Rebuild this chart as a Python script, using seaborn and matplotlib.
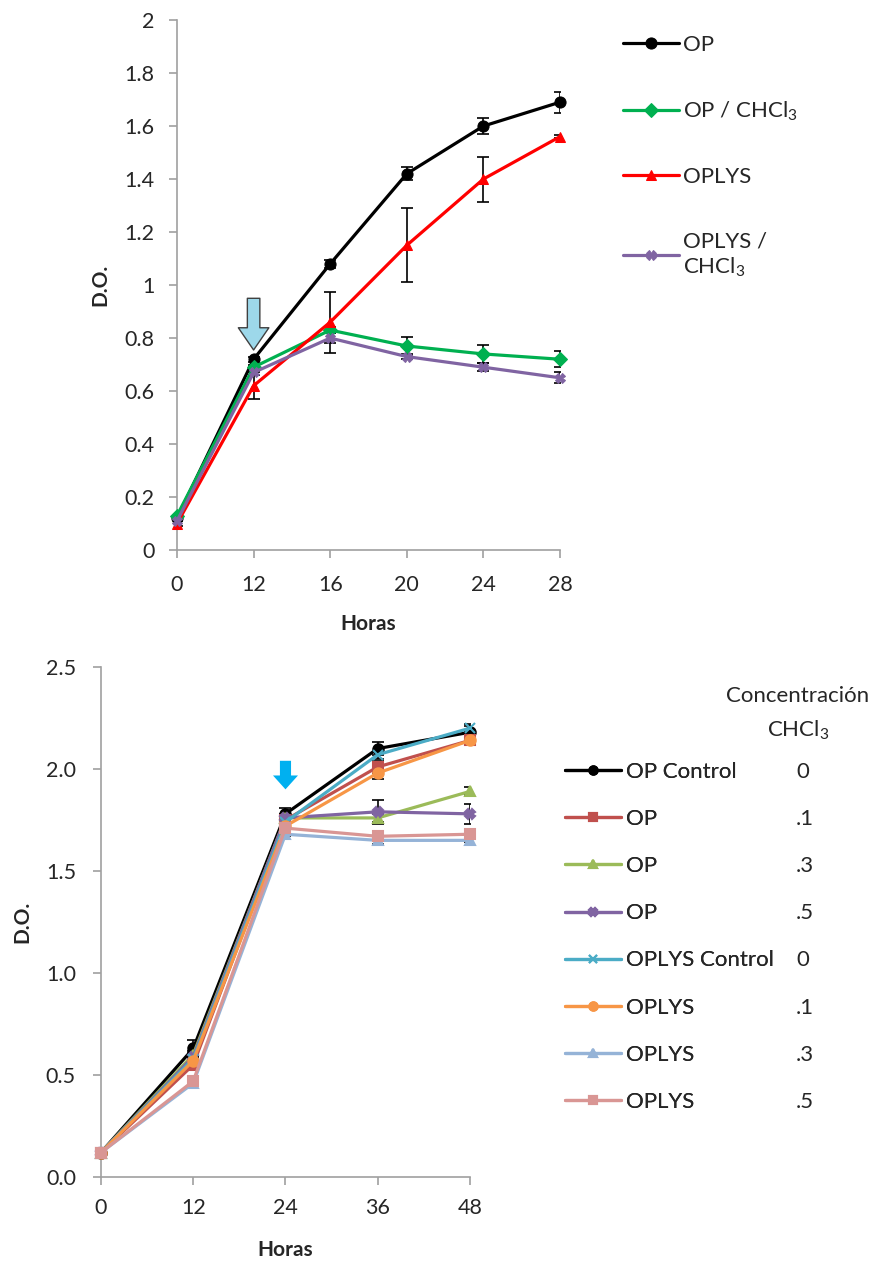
import numpy as np
import pandas as pd
import seaborn as sns
import matplotlib.pyplot as plt

# * data, top panel
top_hours = ['0', '12', '16', '20', '24', '28']
op = [0.12, 0.72, 1.08, 1.42, 1.60, 1.69]
op_err = [0.01, 0.01, 0.015, 0.025, 0.03, 0.04]
op_chcl3 = [0.13, 0.69, 0.83, 0.77, 0.74, 0.72]
op_chcl3_err = [0.0, 0.01, 0.01, 0.035, 0.035, 0.03]
oplys = [0.10, 0.62, 0.86, 1.15, 1.40, 1.56]
oplys_err = [0.01, 0.05, 0.115, 0.14, 0.085, 0.005]
oplys_chcl3 = [0.11, 0.67, 0.80, 0.73, 0.69, 0.65]
oplys_chcl3_err = [0.0, 0.01, 0.02, 0.01, 0.015, 0.02]

# * data, bottom panel
bottom_hours = ['0', '12', '24', '36', '48']
op_control = [0.12, 0.63, 1.78, 2.10, 2.18]
op_control_err = [0.0, 0.04, 0.03, 0.03, 0.03]
op_01 = [0.12, 0.55, 1.75, 2.01, 2.14]
op_01_err = [0.0, 0.02, 0.02, 0.03, 0.02]
op_03 = [0.12, 0.60, 1.76, 1.76, 1.89]
op_03_err = [0.0, 0.02, 0.02, 0.02, 0.02]
op_05 = [0.12, 0.59, 1.76, 1.79, 1.78]
op_05_err = [0.0, 0.02, 0.02, 0.06, 0.05]
oplys_control = [0.12, 0.58, 1.74, 2.07, 2.20]
oplys_control_err = [0.0, 0.01, 0.02, 0.02, 0.02]
oplys_01 = [0.12, 0.57, 1.72, 1.98, 2.14]
oplys_01_err = [0.0, 0.01, 0.02, 0.03, 0.02]
oplys_03 = [0.12, 0.46, 1.68, 1.65, 1.65]
oplys_03_err = [0.0, 0.01, 0.01, 0.02, 0.01]
oplys_05 = [0.12, 0.47, 1.71, 1.67, 1.68]
oplys_05_err = [0.0, 0.02, 0.01, 0.01, 0.01]
bottom_names = ['OP Control', 'OP', 'OP', 'OP', 'OPLYS Control', 'OPLYS', 'OPLYS', 'OPLYS']
concentrations = ['0', '.1', '.3', '.5', '0', '.1', '.3', '.5']

sns.set_style('white')
plt.rcParams['font.family'] = ['Lato', 'DejaVu Sans']
plt.rcParams['mathtext.fontset'] = 'custom'
plt.rcParams['mathtext.rm'] = 'Lato'
plt.rcParams['mathtext.it'] = 'Lato:italic'
plt.rcParams['mathtext.bf'] = 'Lato:bold'

axis_gray = '#A0A0A0'
sub3 = r'CHCl$_\mathregular{3}$'

fig = plt.figure(figsize=(8.78, 12.61), dpi=100)
ax1 = fig.add_axes([0.2016, 0.5638, 0.4362, 0.4203])
ax2 = fig.add_axes([0.115, 0.0666, 0.4203, 0.4045])


def style_axis(ax, n, ylim, yticks, ylabels, xlabels, xpad, ypad):
    ax.set_xlim(0, n - 1)
    ax.set_ylim(*ylim)
    ax.set_xticks(np.arange(n))
    ax.set_xticklabels(xlabels)
    ax.set_yticks(yticks)
    ax.set_yticklabels(ylabels)
    for side in ['top', 'right']:
        ax.spines[side].set_visible(False)
    for side in ['left', 'bottom']:
        ax.spines[side].set_color(axis_gray)
        ax.spines[side].set_linewidth(1.2)
    ax.tick_params(axis='x', length=6, width=1.2, color=axis_gray, pad=xpad,
                   labelsize=15.5, direction='out', bottom=True)
    ax.tick_params(axis='y', length=6, width=1.2, color=axis_gray, pad=ypad,
                   labelsize=15.5, direction='out', left=True)
    ax.grid(False)


# * top panel
top_series = [
    ('OP', op, op_err, 'black', 'o', 8),
    ('OP / ' + sub3, op_chcl3, op_chcl3_err, '#00B050', 'D', 7.5),
    ('OPLYS', oplys, oplys_err, '#FF0000', '^', 7.5),
    ('OPLYS /\n' + sub3, oplys_chcl3, oplys_chcl3_err, '#8064A2', 'X', 7),
]
x_top = np.arange(len(top_hours))
for name, vals, err, col, mk, ms in top_series:
    ax1.errorbar(x_top, vals, yerr=err, fmt='none', ecolor='black',
                 elinewidth=1.2, capsize=4, capthick=1.2, zorder=2)
    sns.lineplot(x=x_top, y=vals, color=col, marker=mk, markersize=ms,
                 markeredgecolor=col, linewidth=2.3, label=name, ax=ax1,
                 zorder=3, clip_on=False)

style_axis(ax1, len(top_hours), (0, 2), np.arange(0, 2.01, 0.2),
           ['0', '0.2', '0.4', '0.6', '0.8', '1', '1.2', '1.4', '1.6', '1.8', '2'],
           top_hours, 12, 10)
ax1.set_xlabel('Horas', fontsize=15, fontweight='bold', labelpad=14)
ax1.set_ylabel('D.O.', fontsize=15, fontweight='bold', labelpad=10)

ax1.annotate('', xy=(1, 0.755), xytext=(1, 0.95),
             arrowprops=dict(arrowstyle='simple,head_width=22,head_length=16,tail_width=9',
                             mutation_scale=1, fc='#9DD8EA', ec='#404040', lw=1,
                             shrinkA=0, shrinkB=0), zorder=5)

h1, l1 = ax1.get_legend_handles_labels()
ax1.get_legend().remove()
fig.legend(h1, l1, loc='upper left', bbox_to_anchor=(623 / 878, 1 - 35 / 1261),
           frameon=False, fontsize=16, handlelength=2.5, handletextpad=0.2,
           labelspacing=2.0, borderpad=0, borderaxespad=0)

# * bottom panel
bottom_series = [
    (op_control, op_control_err, 'black', 'o', 7.5),
    (op_01, op_01_err, '#C0504D', 's', 7.5),
    (op_03, op_03_err, '#9BBB59', '^', 7.5),
    (op_05, op_05_err, '#8064A2', 'X', 7),
    (oplys_control, oplys_control_err, '#4BACC6', 'x', 6.5),
    (oplys_01, oplys_01_err, '#F79646', 'o', 7.5),
    (oplys_03, oplys_03_err, '#95B3D7', '^', 7.5),
    (oplys_05, oplys_05_err, '#D99694', 's', 7.5),
]
x_bot = np.arange(len(bottom_hours))
for name, (vals, err, col, mk, ms) in zip(bottom_names, bottom_series):
    ax2.errorbar(x_bot, vals, yerr=err, fmt='none', ecolor='black',
                 elinewidth=1.2, capsize=4, capthick=1.2, zorder=2)
    sns.lineplot(x=x_bot, y=vals, color=col, marker=mk, markersize=ms,
                 markeredgecolor=col, markeredgewidth=1.5, linewidth=2.3,
                 label=name, ax=ax2, zorder=3, clip_on=False)

style_axis(ax2, len(bottom_hours), (0, 2.5), np.arange(0, 2.51, 0.5),
           ['0.0', '0.5', '1.0', '1.5', '2.0', '2.5'], bottom_hours, 9, 12)
ax2.set_xlabel('Horas', fontsize=15, fontweight='bold', labelpad=16)
ax2.set_ylabel('D.O.', fontsize=15, fontweight='bold', labelpad=10)

ax2.annotate('', xy=(2, 1.90), xytext=(2, 2.04),
             arrowprops=dict(arrowstyle='simple,head_width=18,head_length=10,tail_width=8',
                             mutation_scale=1, fc='#00B0F0', ec='#00B0F0', lw=0,
                             shrinkA=0, shrinkB=0), zorder=5)

h2, l2 = ax2.get_legend_handles_labels()
ax2.get_legend().remove()
leg_kw = dict(loc='upper left', frameon=False, fontsize=16, labelspacing=1.22,
              borderpad=0, borderaxespad=0, markerscale=0.8)
leg_a = fig.legend(h2, l2, bbox_to_anchor=(565 / 878, 1 - 762 / 1261),
                   handlelength=2.5, handletextpad=0.25, **leg_kw)
blank = [plt.Line2D([], [], alpha=0) for _ in concentrations]
fig.legend(blank, concentrations, bbox_to_anchor=(796 / 878, 1 - 762 / 1261),
           handlelength=0, handletextpad=0, **leg_kw)
fig.add_artist(leg_a)

fig.text(798 / 878, 1 - 714 / 1261, 'Concentración\n' + sub3, ha='center',
         va='center', fontsize=16, linespacing=1.65)

fig.savefig('out.png', dpi=100)
